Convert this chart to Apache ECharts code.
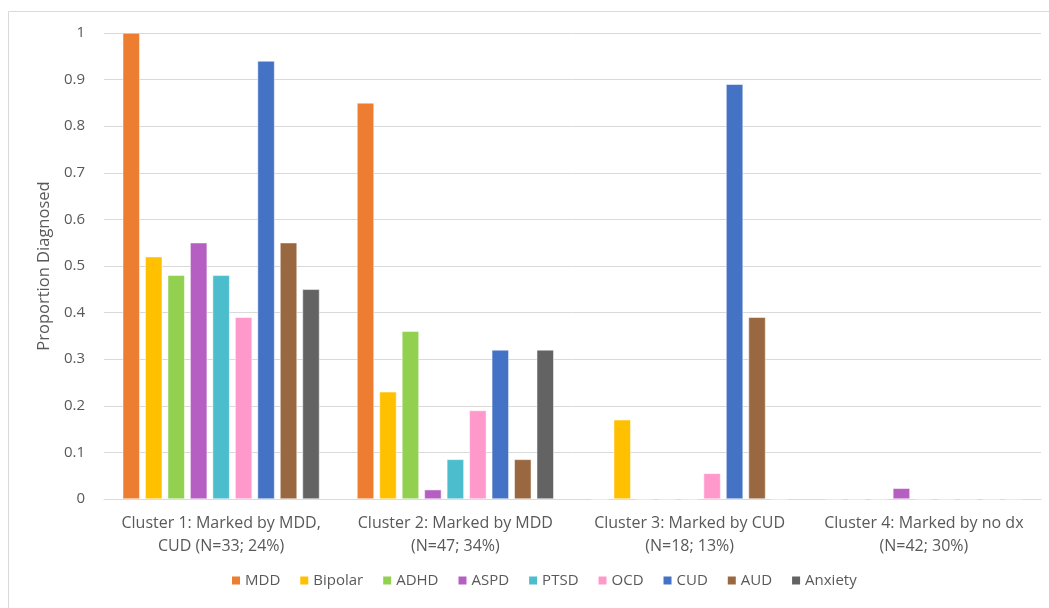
<!DOCTYPE html>
<html>
<head>
<meta charset="utf-8">
<script src="https://cdn.jsdelivr.net/npm/echarts@6/dist/echarts.min.js"></script>
<style>
html,body{margin:0;padding:0;background:#fff;}
#chart{width:1049px;height:608px;}
</style>
</head>
<body>
<div id="chart"></div>
<script>
const categories = [
  "Cluster 1: Marked by MDD,\nCUD (N=33; 24%)",
  "Cluster 2: Marked by MDD\n(N=47; 34%)",
  "Cluster 3: Marked by CUD\n(N=18; 13%)",
  "Cluster 4: Marked by no dx\n(N=42; 30%)"
];
const seriesNames = ["MDD","Bipolar","ADHD","ASPD","PTSD","OCD","CUD","AUD","Anxiety"];
const seriesColors = ["#ED7D31","#FFC000","#92D050","#B55FC2","#4BBDCC","#FF99CC","#4472C4","#996840","#636363"];
const MDD     = [1.00, 0.85, 0,     0];
const Bipolar = [0.52, 0.23, 0.17,  0];
const ADHD    = [0.48, 0.36, 0,     0];
const ASPD    = [0.55, 0.02, 0,     0.023];
const PTSD    = [0.48, 0.085,0,     0];
const OCD     = [0.39, 0.19, 0.055, 0];
const CUD     = [0.94, 0.32, 0.89,  0];
const AUD     = [0.55, 0.085,0.39,  0];
const Anxiety = [0.45, 0.32, 0,     0];
const seriesData = [MDD,Bipolar,ADHD,ASPD,PTSD,OCD,CUD,AUD,Anxiety];
const yTicks = [0,0.1,0.2,0.3,0.4,0.5,0.6,0.7,0.8,0.9,1];

const font = "'Open Sans', 'Liberation Sans', sans-serif";
const chart = echarts.init(document.getElementById('chart'), null, {renderer:'canvas'});
chart.setOption({
  animation:false,
  backgroundColor:'#fff',
  textStyle:{fontFamily:font},
  graphic:[{type:'rect', shape:{x:8.5,y:11.5,width:1100,height:700}, style:{fill:'none',stroke:'#d9d9d9',lineWidth:1}, z:-1}],
  grid:{left:104,right:8,top:33,bottom:109,containLabel:false},
  legend:{
    data:seriesNames, bottom:15, left:225, itemWidth:10, itemHeight:10, itemGap:18,
    icon:'rect', textStyle:{fontSize:15,color:'#595959',fontFamily:font,padding:[0,0,0,-1]}
  },
  xAxis:{
    type:'category', data:categories,
    axisLine:{lineStyle:{color:'#d9d9d9',width:1}},
    axisTick:{show:false},
    axisLabel:{color:'#595959',fontSize:16,lineHeight:23,margin:13,fontFamily:font,interval:0}
  },
  yAxis:{
    type:'value', min:0, max:1, interval:0.1,
    name:'Proportion Diagnosed', nameLocation:'middle', nameGap:49,
    nameTextStyle:{color:'#595959',fontSize:16.5,fontFamily:font},
    axisLine:{show:false}, axisTick:{show:false},
    splitLine:{lineStyle:{color:'#d9d9d9',width:1}},
    axisLabel:{color:'#595959',fontSize:15,margin:19,fontFamily:font,
      formatter:function(v){ const t = yTicks.find(x=>Math.abs(x-v)<1e-9); return t===undefined? '' : String(t); }}
  },
  series: seriesNames.map((n,i)=>({
    name:n, type:'bar', data:seriesData[i],
    barGap:'32%', barCategoryGap:'16%',
    itemStyle:{color:seriesColors[i], borderColor:'#ffffff', borderWidth:0.5}
  }))
});
</script>
</body>
</html>
